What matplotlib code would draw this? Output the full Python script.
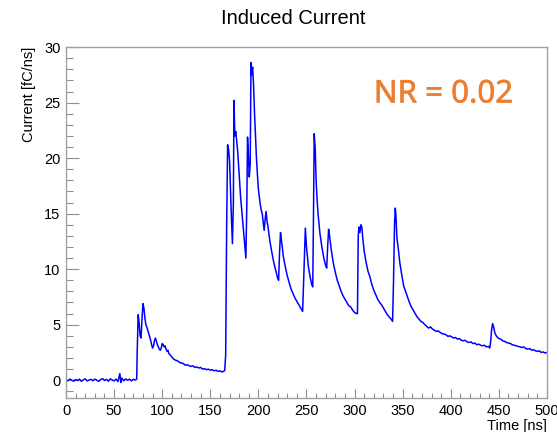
"""Induced current trace, ROOT-like look"""
import matplotlib
matplotlib.use("Agg")
import matplotlib.pyplot as plt
import matplotlib.patheffects as pe
from matplotlib.ticker import MultipleLocator

# Trace (time in ns, current in fC/ns)
time_ns = [
    0, 2, 4, 6, 8, 10, 12, 14, 16, 18, 20, 22, 24, 26, 28, 30, 32, 34, 36, 38,
    40, 42, 44, 46, 48, 50, 52, 54, 56, 57, 58, 60, 62, 64, 66, 68, 70, 72, 73.5,
    74, 75, 76, 77, 78, 79, 80, 81, 82, 83, 84, 85, 86, 87, 88, 89, 90, 91, 92,
    93, 94, 95, 96, 97, 98, 99, 100, 101, 102, 103, 104, 105, 106, 107, 108,
    110, 112, 114, 116, 118, 120, 122, 124, 126, 128, 130, 132, 134, 136, 138,
    140, 142, 144, 146, 148, 150, 152, 154, 156, 158, 160, 162, 164, 165,
    166, 167, 168, 169, 170, 171, 172, 173, 174, 174.6, 175.5, 176.5, 177.5,
    178.5, 180, 181.5, 183, 184.5, 186, 187, 188, 188.7, 189.5, 190.5, 191.5,
    192.3, 193, 194, 195, 196, 197, 198, 199, 200, 201, 202, 203, 204, 205, 206,
    207, 208, 209, 210, 212, 214, 216, 218, 220, 221, 222, 223, 224, 226, 228,
    230, 232, 234, 236, 238, 240, 242, 244, 246, 247, 248, 248.8, 250, 252, 254,
    255.5, 256.5, 257.3, 258, 259, 260, 261, 262, 264, 266, 268, 270, 271, 272,
    273, 274, 276, 278, 280, 282, 284, 286, 288, 290, 292, 294, 296, 298, 300,
    302, 303, 303.8, 304.5, 305.5, 306.5, 307.5, 308.5, 310, 312, 314, 316, 318,
    320, 322, 324, 326, 328, 330, 332, 334, 336, 338, 339.5, 340.5, 341.5, 342.3,
    343, 344, 345.5, 347, 349, 351, 353, 355, 357, 359, 361, 363, 365, 367, 369,
    371, 373, 375, 377, 379, 381, 383, 385, 387, 389, 391, 393, 395, 397, 399,
    401, 403, 405, 407, 409, 411, 413, 415, 417, 419, 421, 423, 425, 427, 429,
    431, 433, 435, 437, 439, 440.5, 441.5, 442.5, 443.5, 444.5, 446, 448, 450,
    452, 454, 456, 458, 460, 462, 464, 466, 468, 470, 472, 474, 476, 478, 480,
    482, 484, 486, 488, 490, 492, 494, 496, 498, 500,
]
current = [
    0.05, -0.05, 0.1, 0.0, -0.08, 0.06, -0.02, 0.1, -0.1, 0.04, 0.12, -0.06, 0.02,
    0.08, -0.04, 0.1, 0.0, -0.1, 0.06, 0.14, -0.02, 0.08, -0.08, 0.12, 0.02, -0.06,
    0.1, -0.12, 0.6, -0.2, 0.2, -0.05, 0.12, 0.0, 0.1, -0.06, 0.08, 0.02, 0.1,
    2.5, 5.9, 5.2, 4.0, 3.8, 5.5, 6.9, 6.5, 5.6, 5.0, 4.8, 4.5, 4.2, 3.9, 3.6,
    3.2, 2.9, 3.1, 3.6, 3.8, 3.5, 3.2, 3.0, 2.8, 2.7, 2.9, 3.3, 3.2, 3.0, 3.1,
    2.8, 2.6, 2.7, 2.4, 2.3,
    2.1, 1.9, 1.8, 1.75, 1.6, 1.55, 1.5, 1.35, 1.4, 1.3, 1.25, 1.3, 1.15, 1.2,
    1.1, 1.15, 1.0, 1.05, 0.95, 1.0, 0.9, 0.95, 0.85, 0.9, 0.8, 0.85, 0.75, 0.8,
    0.9,
    2.3, 13.8, 21.2, 20.8, 19.8, 17.0, 14.5, 12.3, 16.0, 25.2, 22.0, 22.4, 21.5,
    20.6, 18.5, 16.5, 15.0, 13.5, 12.0, 11.0, 16.0, 21.9, 20.5, 18.3, 19.5,
    28.6, 27.5, 28.2, 26.5, 24.0, 22.0, 20.0, 18.5, 17.2, 16.5, 15.8, 15.3, 15.0,
    14.2, 13.5, 14.5, 15.2, 14.3, 13.8, 12.5, 11.5, 10.6, 9.9, 9.2, 9.0, 11.5,
    13.3, 12.6, 11.1, 10.2, 9.4, 8.8, 8.2, 7.8, 7.4, 7.1, 6.8, 6.5, 6.2, 9.0,
    11.5, 13.7, 12.0, 10.2, 9.2, 8.6, 8.4, 15.0, 22.2, 21.0, 18.0, 16.3, 15.0,
    13.2, 12.0, 11.0, 10.3, 10.1, 12.0, 13.6, 13.0, 11.6, 10.5, 9.7, 9.0, 8.5,
    8.0, 7.6, 7.3, 7.0, 6.7, 6.6, 6.3, 6.1, 6.0, 6.0, 13.0, 13.8, 13.3, 14.0,
    13.8, 12.8, 11.6, 10.6, 9.8, 9.3, 8.6, 8.1, 7.7, 7.3, 7.0, 6.8, 6.5, 6.2,
    5.9, 5.7, 5.5, 5.3, 9.0, 14.0, 15.5, 14.8, 12.8, 11.8, 10.6, 9.5, 8.5, 8.0,
    7.5, 7.0, 6.6, 6.3, 6.0, 5.7, 5.5, 5.3, 5.2, 5.0, 4.85, 4.7, 4.8, 4.6, 4.5,
    4.4, 4.45, 4.3, 4.2, 4.15, 4.1, 3.95, 4.0, 3.9, 3.8, 3.85, 3.7, 3.75, 3.6,
    3.55, 3.6, 3.45, 3.4, 3.45, 3.3, 3.35, 3.2, 3.25, 3.15, 3.1, 3.15, 3.0, 3.05,
    2.9, 3.5, 4.6, 5.1, 4.8, 4.2, 3.9, 3.75, 3.7, 3.55, 3.5, 3.4, 3.35, 3.3, 3.2,
    3.15, 3.1, 3.05, 3.0, 2.95, 3.0, 2.85, 2.8, 2.85, 2.7, 2.75, 2.65, 2.6, 2.65,
    2.5, 2.55, 2.45, 2.5,
]

x_major, x_minor = 50, 10
y_major, y_minor = 5, 1

plt.rcParams['font.family'] = ['Liberation Sans', 'DejaVu Sans']

fig = plt.figure(figsize=(5.57, 4.32), dpi=100)
ax = fig.add_axes([0.1185, 0.0787, 0.8635, 0.8123])

ax.plot(time_ns, current, color='#0000ff', linewidth=1.1)

ax.set_xlim(0, 500)
ax.set_ylim(-1.6, 30)

# ROOT style: ticks inside, only left and bottom
ax.xaxis.set_major_locator(MultipleLocator(x_major))
ax.xaxis.set_minor_locator(MultipleLocator(x_minor))
ax.yaxis.set_major_locator(MultipleLocator(y_major))
ax.yaxis.set_minor_locator(MultipleLocator(y_minor))
ax.tick_params(axis='both', which='both', direction='in', color='#909090',
               labelsize=10.5, top=False, right=False)
ax.tick_params(axis='y', which='major', length=9.5, width=0.8, pad=4)
ax.tick_params(axis='y', which='minor', length=5, width=0.8)
ax.tick_params(axis='x', which='major', length=6.5, width=0.8, pad=4)
ax.tick_params(axis='x', which='minor', length=3.6, width=0.8)
for spine in ax.spines.values():
    spine.set_color('#a0a0a0')
    spine.set_linewidth(1.0)

ax.set_ylabel('Current [fC/ns]', fontsize=10.5, loc='top', labelpad=6)
ax.set_xlabel('Time [ns]', fontsize=10.5, loc='right', labelpad=1)

fig.text(0.527, 0.958, 'Induced Current', fontsize=14.5, ha='center', va='center')

# annotation, slightly heavier than regular
ax.text(0.64, 0.865, 'NR = 0.02', transform=ax.transAxes, color='#ed7d31',
        fontsize=22.5, family=['Noto Sans', 'DejaVu Sans'], ha='left', va='center',
        path_effects=[pe.withStroke(linewidth=0.4, foreground='#ed7d31')])

fig.savefig('out.png', dpi=100)
